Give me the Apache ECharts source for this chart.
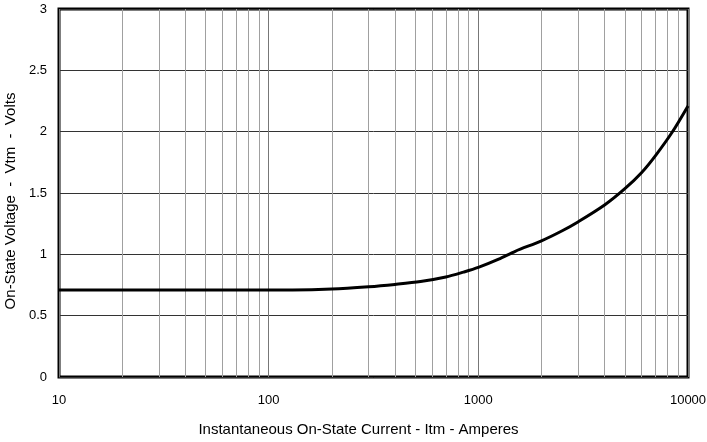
<!DOCTYPE html>
<html>
<head>
<meta charset="utf-8">
<script src="https://cdn.jsdelivr.net/npm/echarts@6/dist/echarts.min.js"></script>
<style>html,body{margin:0;padding:0;background:#fff}#c{width:707px;height:442px}</style>
</head>
<body>
<div id="c"></div>
<script>
const currents = [10, 100, 130, 200, 300, 400, 530, 700, 850, 1000, 1250, 1500, 2000, 2500, 3000, 4000, 5000, 6000, 7000, 8400, 10000];
const voltages = [0.71, 0.71, 0.71, 0.717, 0.736, 0.755, 0.778, 0.815, 0.855, 0.893, 0.96, 1.025, 1.11, 1.19, 1.266, 1.402, 1.535, 1.665, 1.805, 1.995, 2.21];
const minorGrid = [20,30,40,50,60,70,80,90,200,300,400,500,600,700,800,900,2000,3000,4000,5000,6000,7000,8000,9000];
const xTickLabels = [10, 100, 1000, 10000];
const yTicks = [0, 0.5, 1, 1.5, 2, 2.5, 3];

const chart = echarts.init(document.getElementById('c'));
chart.setOption({
  animation: false,
  grid: { left: 59, right: 19, top: 9, bottom: 65, show: true, borderColor: '#000', borderWidth: 3,
    backgroundColor: 'transparent', containLabel: false, outerBoundsMode: 'none' },
  xAxis: {
    type: 'log', logBase: 10, min: xTickLabels[0], max: xTickLabels[xTickLabels.length-1],
    name: 'Instantaneous On-State Current - Itm - Amperes',
    nameLocation: 'middle', nameGap: 45,
    nameTextStyle: { fontFamily: 'Liberation Sans', fontSize: 15, color: '#000', padding: [0, 30, 0, 0] },
    axisLine: { show: false }, axisTick: { show: false },
    axisLabel: { fontFamily: 'Liberation Sans', fontSize: 13, color: '#000', margin: 17,
      formatter: v => String(Math.round(v)) },
    splitLine: { show: true, lineStyle: { color: '#777', width: 1 } }
  },
  yAxis: {
    type: 'value', min: yTicks[0], max: yTicks[yTicks.length-1], interval: 0.5,
    name: 'On-State Voltage  -  Vtm  -  Volts',
    nameLocation: 'middle', nameGap: 38,
    nameTextStyle: { fontFamily: 'Liberation Sans', fontSize: 15, color: '#000', padding: [0, 16, 0, 0] },
    axisLine: { show: false }, axisTick: { show: false },
    axisLabel: { fontFamily: 'Liberation Sans', fontSize: 13, color: '#000', margin: 12 },
    splitLine: { show: true, lineStyle: { color: '#333', width: 1 } }
  },
  series: [
    {
      type: 'line', data: [], z: 1, silent: true,
      markLine: {
        silent: true, symbol: 'none', animation: false,
        label: { show: false },
        lineStyle: { color: '#a0a0a0', width: 1, type: 'solid' },
        data: minorGrid.map(v => ({ xAxis: v }))
      }
    },
    {
      type: 'line', z: 5,
      data: currents.map((c, i) => [c, voltages[i]]),
      smooth: 0.3, showSymbol: false,
      lineStyle: { color: '#000', width: 3 }
    }
  ]
});
</script>
</body>
</html>
